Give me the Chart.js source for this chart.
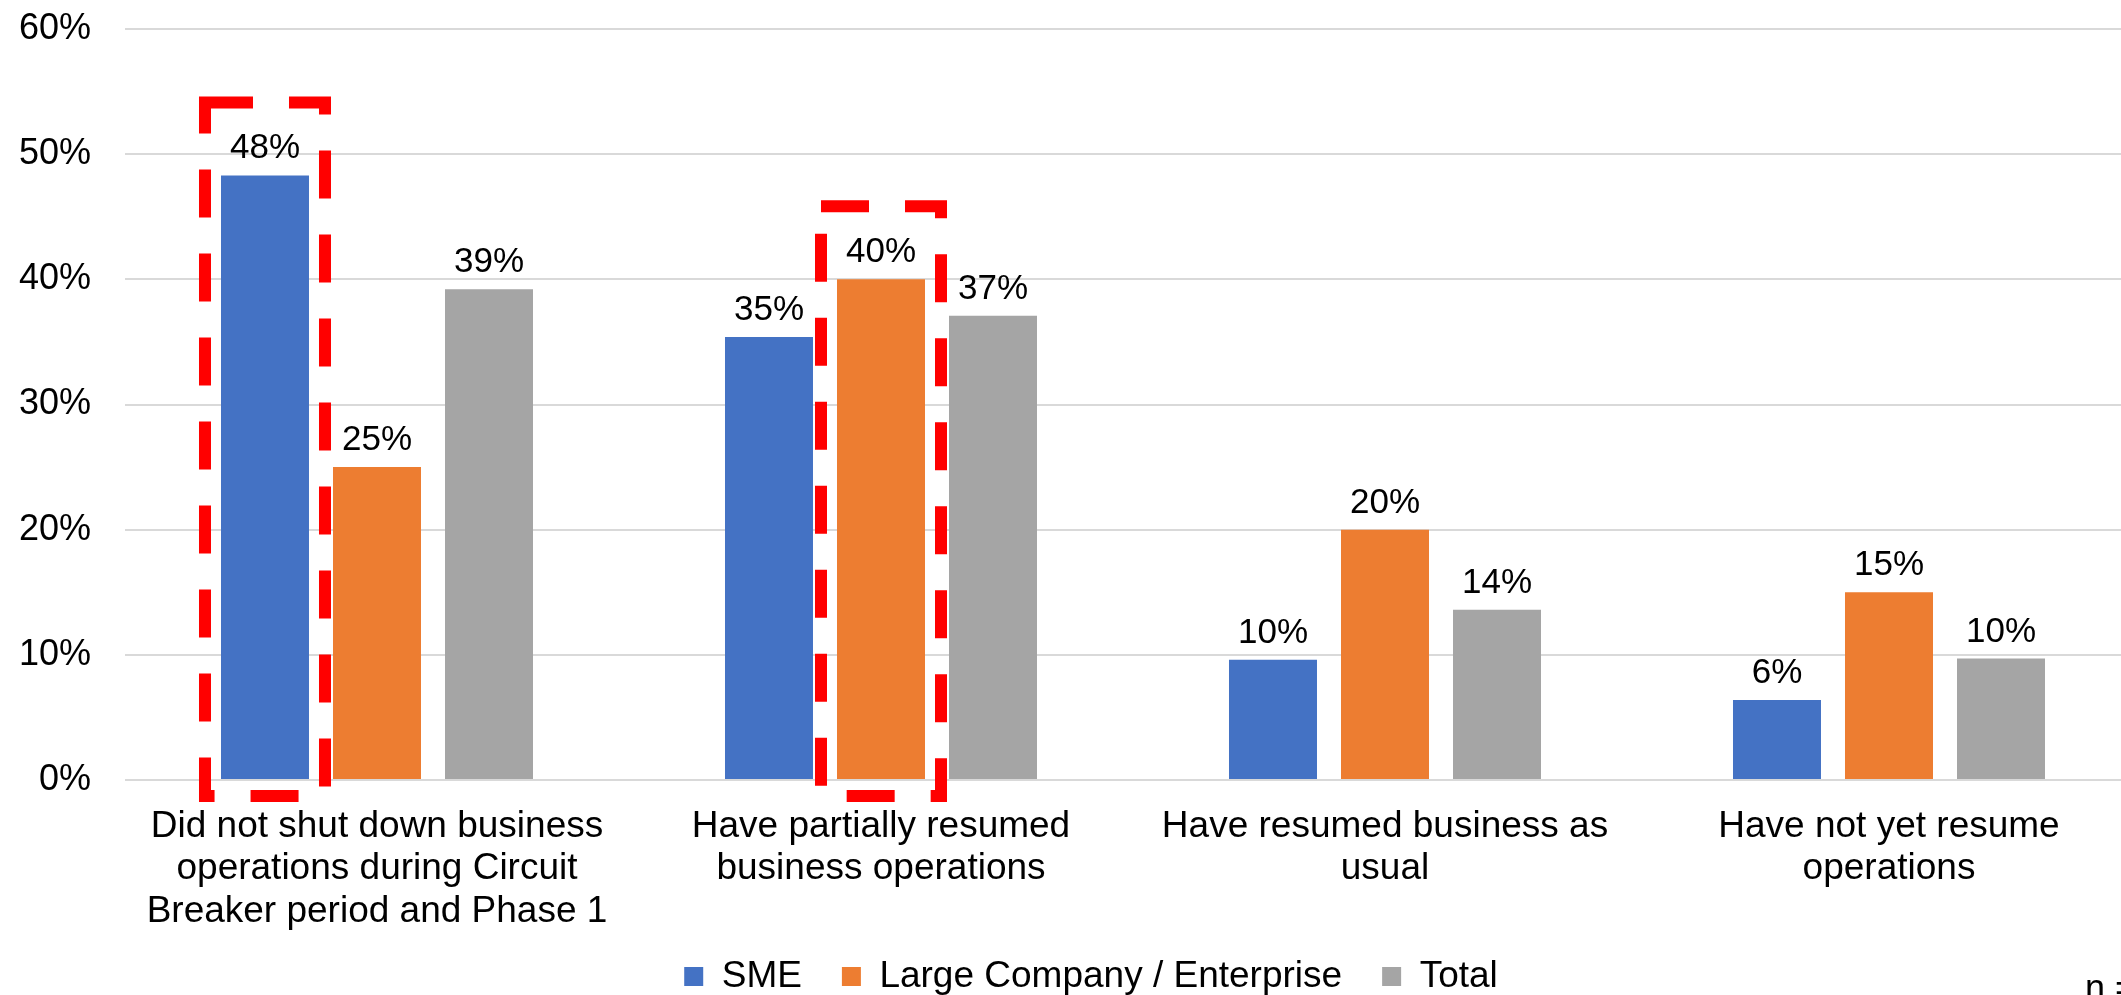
<!DOCTYPE html>
<html>
<head>
<meta charset="utf-8">
<title>Business operations status</title>
<script src="https://cdn.jsdelivr.net/npm/chart.js"></script>
<style>
  html, body { margin: 0; padding: 0; background: #fff; overflow: hidden; }
  #wrap { position: relative; width: 2121px; height: 995px; overflow: hidden; }
  #note { position: absolute; left: 2085px; top: 970px; font: 36px 'Liberation Sans', Arial, sans-serif; line-height: 36px; color: #000; white-space: nowrap; }
</style>
</head>
<body>
<div id="wrap">
  <canvas id="chart" width="2141" height="995"></canvas>
  <div id="note">n =</div>
</div>
<script>
// ---- data ----
const categories = [
  ['Did not shut down business', 'operations during Circuit', 'Breaker period and Phase 1'],
  ['Have partially resumed', 'business operations'],
  ['Have resumed business as', 'usual'],
  ['Have not yet resume', 'operations']
];
const smeValues = [48.3, 35.4, 9.6, 6.4];
const largeValues = [25.0, 40.0, 20.0, 15.0];
const totalValues = [39.2, 37.1, 13.6, 9.7];
const seriesNames = ['SME', 'Large Company / Enterprise', 'Total'];
const yTicks = [0, 10, 20, 30, 40, 50, 60];

// bars that get the red dashed highlight box
const highlights = [
  { datasetIndex: 0, index: 0 },
  { datasetIndex: 1, index: 1 }
];

const FONT = "'Liberation Sans', Arial, sans-serif";

// value labels above each bar
const barLabels = {
  id: 'barLabels',
  afterDatasetsDraw(chart) {
    const ctx = chart.ctx;
    ctx.save();
    ctx.font = '35px ' + FONT;
    ctx.fillStyle = '#000';
    ctx.textAlign = 'center';
    ctx.textBaseline = 'alphabetic';
    chart.data.datasets.forEach((ds, i) => {
      chart.getDatasetMeta(i).data.forEach((bar, j) => {
        ctx.fillText(Math.round(ds.data[j]) + '%', bar.x, bar.y - 17);
      });
    });
    ctx.restore();
  }
};

// red dashed boxes around highlighted bars
const highlightBoxes = {
  id: 'highlightBoxes',
  afterDraw(chart) {
    const ctx = chart.ctx;
    const zero = chart.scales.y.getPixelForValue(0);
    ctx.save();
    ctx.strokeStyle = '#ff0000';
    ctx.lineWidth = 12;
    ctx.setLineDash([48, 36]);
    highlights.forEach(h => {
      const bar = chart.getDatasetMeta(h.datasetIndex).data[h.index];
      const left = bar.x - bar.width / 2 - 16;
      const right = bar.x + bar.width / 2 + 16;
      const top = bar.y - 73;
      const bottom = zero + 16;
      ctx.strokeRect(left, top, right - left, bottom - top);
    });
    ctx.restore();
  }
};

// legend: fixed height, its top pulled up a little under the axis labels
const legendPlace = {
  id: 'legendPlace',
  beforeUpdate(chart) {
    const legend = chart.legend;
    if (!legend || legend._fixed) return;
    const fit = legend.fit;
    legend.fit = function () {
      fit.call(this);
      this.height = 60;
    };
    legend._fixed = true;
  },
  afterLayout(chart) {
    if (!chart.legend) return;
    chart.legend.top -= 17;
  }
};

new Chart(document.getElementById('chart'), {
  type: 'bar',
  data: {
    labels: categories,
    datasets: [
      { label: seriesNames[0], data: smeValues, backgroundColor: '#4472C4' },
      { label: seriesNames[1], data: largeValues, backgroundColor: '#ED7D31' },
      { label: seriesNames[2], data: totalValues, backgroundColor: '#A5A5A5' }
    ]
  },
  options: {
    responsive: false,
    animation: false,
    devicePixelRatio: 1,
    layout: { padding: { top: 29, left: 41, right: 0, bottom: 0 } },
    datasets: {
      bar: { categoryPercentage: 0.6667, barPercentage: 0.7857 }
    },
    plugins: {
      legend: {
        position: 'bottom',
        labels: {
          boxWidth: 19,
          boxHeight: 19,
          padding: 40,
          color: '#000',
          font: { family: FONT, size: 37 }
        }
      },
      tooltip: { enabled: false }
    },
    scales: {
      x: {
        grid: { display: false },
        border: { display: false },
        ticks: {
          color: '#000',
          autoSkip: false,
          maxRotation: 0,
          minRotation: 0,
          padding: 17,
          font: { family: FONT, size: 37, lineHeight: 1.155 }
        },
        afterFit(scale) { scale.height = 155; }
      },
      y: {
        min: yTicks[0],
        max: yTicks[yTicks.length - 1],
        grid: { color: '#d9d9d9', lineWidth: 2, drawTicks: false },
        border: { display: false },
        ticks: {
          stepSize: yTicks[1] - yTicks[0],
          color: '#000',
          mirror: true,
          crossAlign: 'far',
          padding: -106,
          font: { family: FONT, size: 36 },
          callback: v => v + '%'
        },
        afterFit(scale) { scale.width = 84; }
      }
    }
  },
  plugins: [barLabels, highlightBoxes, legendPlace]
});
</script>
</body>
</html>
